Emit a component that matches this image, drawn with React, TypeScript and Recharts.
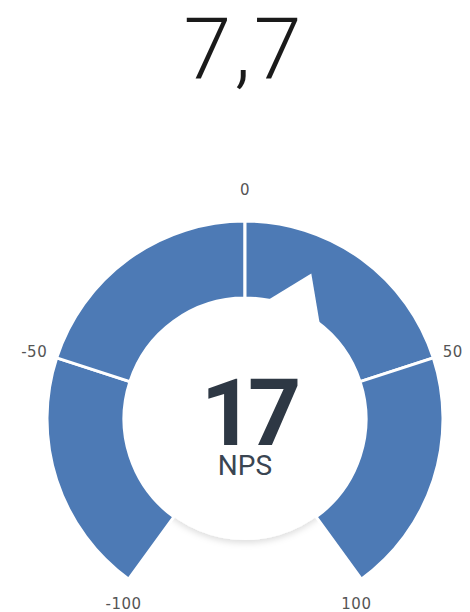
import React from "react";
import { PieChart, Pie, Cell, Customized } from "recharts";

const titleText = "7,7";
const npsValue = 17;
const npsLabel = "NPS";
const segFrom = [-100, -50, 0, 50];
const segTo = [-50, 0, 50, 100];
const segColors = ["#4d7ab5", "#4d7ab5", "#4d7ab5", "#4d7ab5"];

const data = segFrom.map((f, i) => ({ name: `${f}..${segTo[i]}`, from: f, to: segTo[i], value: segTo[i] - f }));

const W = 470;
const H = 612;
const CX = 245;
const CY = 419;
const START = 234;
const END = -54;
const OUTER = 198;
const INNER = 121;
const CIRCLE_R = 121;
const RAD = Math.PI / 180;
const MIN = segFrom[0];
const MAX = segTo[segTo.length - 1];

const needleData = [
  { name: "value", value: npsValue - MIN },
  { name: "rest", value: MAX - npsValue },
];

const polar = (cx: number, cy: number, r: number, a: number) => ({
  x: cx + r * Math.cos(-a * RAD),
  y: cy + r * Math.sin(-a * RAD),
});

const tickStyle = { fontFamily: "'DejaVu Sans', sans-serif", fontSize: 15, fill: "#555", letterSpacing: 0.5 };

const tickAt = (cx: number, cy: number, outer: number, a: number, text: number, key: string) => {
  const s = Math.sin(a * RAD);
  const c = Math.cos(a * RAD);
  const o = polar(cx, cy, outer, a);
  let x = o.x;
  let y = o.y;
  let anchor: "start" | "middle" | "end" = "middle";
  if (s < -0.5) {
    x = o.x - 5;
    y = o.y + 25;
  } else if (Math.abs(c) < 0.2) {
    const p = polar(cx, cy, outer + 31, a);
    x = p.x;
    y = p.y;
  } else {
    const p = polar(cx, cy, outer + 10, a);
    x = p.x;
    y = p.y - 3;
    anchor = c < 0 ? "end" : "start";
  }
  return (
    <text key={key} x={x} y={y} textAnchor={anchor} dominantBaseline="central" {...tickStyle}>
      {text}
    </text>
  );
};

const renderTicks = (props: any) => {
  const { cx, cy, startAngle, endAngle, outerRadius, index } = props;
  const d = data[index];
  return (
    <g key={`lbl-${index}`}>
      {tickAt(cx, cy, outerRadius, startAngle, d.from, "s")}
      {index === data.length - 1 && tickAt(cx, cy, outerRadius, endAngle, d.to, "e")}
    </g>
  );
};

const renderNeedle = (props: any) => {
  const { cx, cy, endAngle, index } = props;
  if (index !== 0) return <g key={`n-${index}`} />;
  const tip = polar(cx, cy, 160, endAngle);
  const b1 = polar(cx, cy, 108, endAngle + 90);
  const b2 = polar(cx, cy, 108, endAngle - 90);
  return (
    <g key="needle">
      <polygon points={`${tip.x},${tip.y} ${b1.x},${b1.y} ${b2.x},${b2.y}`} fill="#fff" />
      <text
        x={cx + 3}
        y={cy + 26}
        textAnchor="middle"
        fontFamily="Roboto, sans-serif"
        fontWeight={700}
        fontSize={93}
        letterSpacing={-6}
        fill="#2e3844"
      >
        {npsValue}
      </text>
      <text x={cx} y={cy + 56} textAnchor="middle" fontFamily="Roboto, sans-serif" fontSize={28} fill="#3a4552">
        {npsLabel}
      </text>
    </g>
  );
};

const Background = () => (
  <g>
    <defs>
      <filter id="cshadow" x="-20%" y="-20%" width="140%" height="140%">
        <feDropShadow dx="0" dy="3" stdDeviation="3" floodColor="#000" floodOpacity="0.13" />
      </filter>
    </defs>
    <circle cx={CX} cy={CY} r={CIRCLE_R} fill="#fff" filter="url(#cshadow)" />
    <text
      x={244}
      y={78}
      textAnchor="middle"
      fontFamily="Roboto, sans-serif"
      fontWeight={300}
      fontSize={86}
      letterSpacing={3}
      fill="#1a1a1a"
    >
      {titleText}
    </text>
  </g>
);

export default function App() {
  return (
    <div style={{ position: "absolute", left: 0, top: 0, width: W, height: H, background: "#fff" }}>
      <PieChart width={W} height={H} margin={{ top: 0, right: 0, bottom: 0, left: 0 }}>
        <Customized component={Background} />
        <Pie
          data={data}
          dataKey="value"
          nameKey="name"
          cx={CX}
          cy={CY}
          startAngle={START}
          endAngle={END}
          innerRadius={INNER}
          outerRadius={OUTER}
          stroke="#fff"
          strokeWidth={3}
          label={renderTicks}
          labelLine={false}
          isAnimationActive={false}
        >
          {data.map((d, i) => (
            <Cell key={d.name} fill={segColors[i]} />
          ))}
        </Pie>
        <Pie
          data={needleData}
          dataKey="value"
          nameKey="name"
          cx={CX}
          cy={CY}
          startAngle={START}
          endAngle={END}
          innerRadius={0}
          outerRadius={1}
          fill="none"
          stroke="none"
          label={renderNeedle}
          labelLine={false}
          isAnimationActive={false}
        />
      </PieChart>
    </div>
  );
}
